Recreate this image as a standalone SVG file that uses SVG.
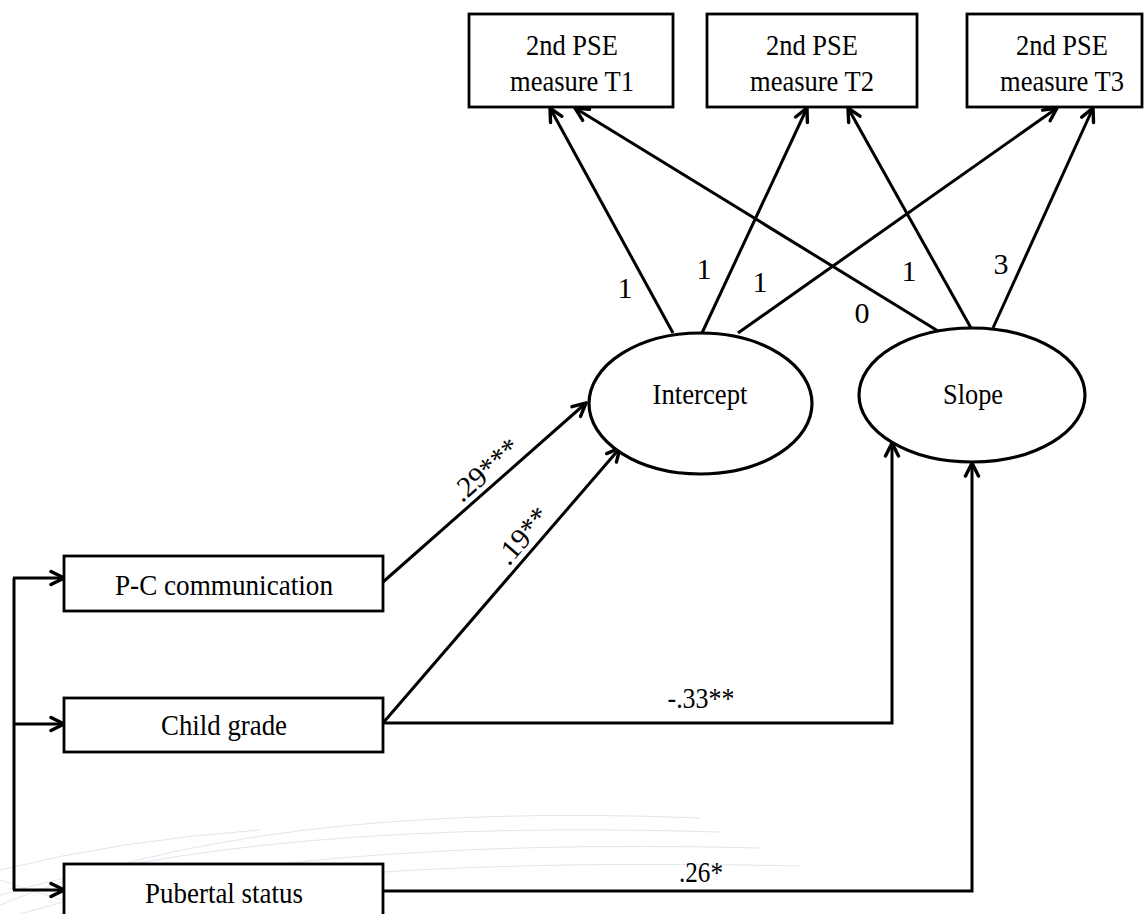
<svg xmlns="http://www.w3.org/2000/svg" width="1144" height="914" viewBox="0 0 1144 914">
  <defs>
    <marker id="arr" markerUnits="userSpaceOnUse" viewBox="-16 -9 18 18" refX="0" refY="0" markerWidth="18" markerHeight="18" orient="auto">
      <path d="M-13,-6.5 L0,0 L-13,6.5" fill="none" stroke="#000" stroke-width="3.4" stroke-linecap="round" stroke-linejoin="miter"/>
    </marker>
  </defs>
  <style>
    .box { fill: #fff; stroke: #000; stroke-width: 2.8; }
    .ell { fill: #fff; stroke: #000; stroke-width: 3.2; }
    .t { font-family: "Liberation Serif", "Times New Roman", serif; font-size: 30px; fill: #000; text-anchor: middle; }
    .lbl { font-family: "Liberation Serif", "Times New Roman", serif; font-size: 29px; fill: #000; text-anchor: middle; }
    .c { fill: none; stroke: #000; stroke-width: 3; }
    .ca { fill: none; stroke: #000; stroke-width: 3; marker-end: url(#arr); }
    .wm { fill: none; stroke: #c9d6e3; stroke-width: 1; opacity: 0.6; }
  </style>
  <rect width="1144" height="914" fill="#fff"/>

  <g id="watermark">
    <path class="wm" d="M0,905 Q250,800 700,818"/>
    <path class="wm" d="M0,895 Q260,818 720,832"/>
    <path class="wm" d="M20,914 Q280,836 760,848"/>
    <path class="wm" d="M60,914 Q320,855 800,866"/>
    <path class="wm" d="M0,870 Q120,840 260,830"/>
    <path class="wm" d="M0,880 Q60,900 110,914"/>
  </g>

  <g id="connectors">
    <line class="ca" x1="673" y1="333" x2="550" y2="108"/>
    <line class="ca" x1="702" y1="333" x2="807" y2="108"/>
    <line class="ca" x1="738" y1="333" x2="1057" y2="108"/>
    <line class="ca" x1="938" y1="331" x2="575" y2="108"/>
    <line class="ca" x1="971" y1="328" x2="848" y2="108"/>
    <line class="ca" x1="993" y1="328" x2="1093" y2="108"/>
    <line class="ca" x1="383" y1="582" x2="586" y2="403"/>
    <line class="ca" x1="383" y1="723" x2="620" y2="448"/>
    <path class="ca" d="M383,723 H892 V443"/>
    <path class="ca" d="M383,891 H972 V463"/>
    <path class="c" d="M14,578 V890"/>
    <line class="ca" x1="13" y1="578" x2="64" y2="578"/>
    <line class="ca" x1="13" y1="724" x2="64" y2="724"/>
    <line class="ca" x1="13" y1="890" x2="64" y2="890"/>
  </g>

  <g id="labels">
    <text class="t" x="625" y="298">1</text>
    <text class="t" x="704" y="279">1</text>
    <text class="t" x="760" y="292">1</text>
    <text class="t" x="862" y="323">0</text>
    <text class="t" x="909" y="281">1</text>
    <text class="t" x="1001" y="274">3</text>
    <text class="lbl" transform="translate(492,477) rotate(-41.4)">.29***</text>
    <text class="lbl" transform="translate(530,542) rotate(-49.2)">.19**</text>
    <text class="t" x="701" y="708" textLength="67" lengthAdjust="spacingAndGlyphs">-.33**</text>
    <text class="t" x="701" y="882" textLength="44" lengthAdjust="spacingAndGlyphs">.26*</text>
  </g>

  <g id="t1">
    <rect class="box" x="469" y="14" width="204" height="93"/>
    <text class="t" x="572" y="55" textLength="92" lengthAdjust="spacingAndGlyphs">2nd PSE</text>
    <text class="t" x="572" y="91" textLength="124" lengthAdjust="spacingAndGlyphs">measure T1</text>
  </g>
  <g id="t2">
    <rect class="box" x="707" y="14" width="210" height="93"/>
    <text class="t" x="812" y="55" textLength="92" lengthAdjust="spacingAndGlyphs">2nd PSE</text>
    <text class="t" x="812" y="91" textLength="124" lengthAdjust="spacingAndGlyphs">measure T2</text>
  </g>
  <g id="t3">
    <rect class="box" x="967" y="14" width="175" height="93"/>
    <text class="t" x="1062" y="55" textLength="92" lengthAdjust="spacingAndGlyphs">2nd PSE</text>
    <text class="t" x="1062" y="91" textLength="124" lengthAdjust="spacingAndGlyphs">measure T3</text>
  </g>

  <g id="intercept">
    <ellipse class="ell" cx="700.5" cy="403.5" rx="111.5" ry="70.5"/>
    <text class="t" x="700" y="404" textLength="95" lengthAdjust="spacingAndGlyphs">Intercept</text>
  </g>
  <g id="slope">
    <ellipse class="ell" cx="972" cy="395" rx="113" ry="67"/>
    <text class="t" x="973" y="404" textLength="60" lengthAdjust="spacingAndGlyphs">Slope</text>
  </g>

  <g id="pc">
    <rect class="box" x="64" y="556" width="319" height="55"/>
    <text class="t" x="224" y="595" textLength="218" lengthAdjust="spacingAndGlyphs">P-C communication</text>
  </g>
  <g id="grade">
    <rect class="box" x="64" y="698" width="319" height="54"/>
    <text class="t" x="224" y="735" textLength="126" lengthAdjust="spacingAndGlyphs">Child grade</text>
  </g>
  <g id="pubertal">
    <rect class="box" x="64" y="864" width="319" height="55"/>
    <text class="t" x="224" y="903" textLength="158" lengthAdjust="spacingAndGlyphs">Pubertal status</text>
  </g>
</svg>
